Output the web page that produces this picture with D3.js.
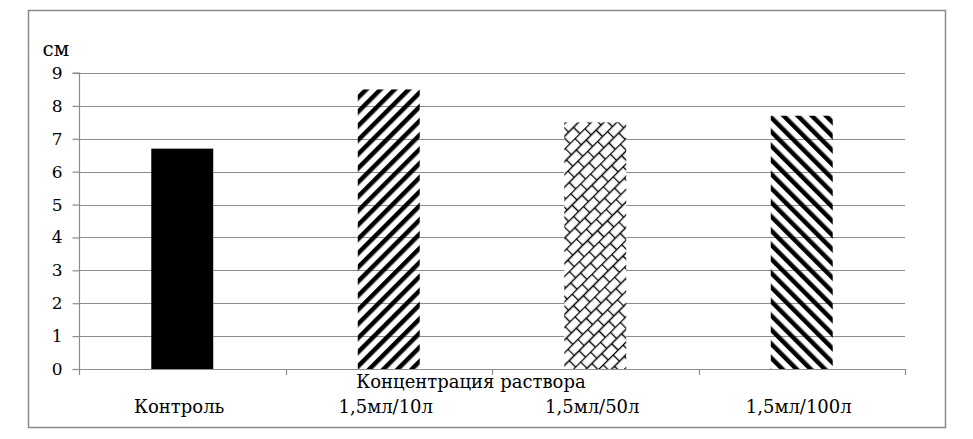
<!DOCTYPE html>
<html>
<head>
<meta charset="utf-8">
<script src="https://cdn.jsdelivr.net/npm/d3@7"></script>
<style>
  body { margin: 0; background: #fff; }
</style>
</head>
<body>
<svg id="chart"></svg>
<script>
// data
var categories = ["Контроль", "1,5мл/10л", "1,5мл/50л", "1,5мл/100л"];
var values = [6.7, 8.5, 7.5, 7.7];
var fills = ["solid", "fwd", "brick", "back"];
var yTicks = [0, 1, 2, 3, 4, 5, 6, 7, 8, 9];

var W = 973, H = 439;
var margin = { top: 73, right: 68, bottom: 70, left: 79 };
var FONT = "'DejaVu Serif', 'Liberation Serif', serif";

var svg = d3.select("#chart").attr("width", W).attr("height", H)
  .style("font-family", FONT);

// outer frame
svg.append("rect")
  .attr("x", 28.5).attr("y", 10.5)
  .attr("width", 917).attr("height", 417)
  .attr("fill", "#fff").attr("stroke", "#8a8a8a").attr("stroke-width", 1.5);

var defs = svg.append("defs");

// forward diagonal stripes "/"
var p1 = defs.append("pattern").attr("id", "fwd")
  .attr("patternUnits", "userSpaceOnUse")
  .attr("width", 10).attr("height", 10)
  .attr("patternTransform", "rotate(45)");
p1.append("rect").attr("x", 0).attr("y", 0).attr("width", 4.5).attr("height", 10).attr("fill", "#000");

// backward diagonal stripes "\"
var p2 = defs.append("pattern").attr("id", "back")
  .attr("patternUnits", "userSpaceOnUse")
  .attr("width", 10).attr("height", 10)
  .attr("patternTransform", "rotate(-45)");
p2.append("rect").attr("x", 0).attr("y", 0).attr("width", 4.5).attr("height", 10).attr("fill", "#000");

// diagonal brick
var p3 = defs.append("pattern").attr("id", "brick")
  .attr("patternUnits", "userSpaceOnUse")
  .attr("width", 14).attr("height", 18)
  .attr("patternTransform", "rotate(-45)");
p3.append("rect").attr("width", 14).attr("height", 18).attr("fill", "#fff");
p3.append("path")
  .attr("d", "M0,0.5H14M0,9.5H14M0.5,0.5V9.5M7.5,9.5V18")
  .attr("stroke", "#000").attr("stroke-width", 1.4).attr("fill", "none");

var x = d3.scaleBand()
  .domain(categories)
  .range([margin.left, W - margin.right]);

var y = d3.scaleLinear()
  .domain([0, 9])
  .range([369, margin.top]);

// gridlines
svg.append("g")
  .selectAll("line")
  .data(yTicks.slice(1))
  .join("line")
  .attr("x1", margin.left).attr("x2", W - margin.right)
  .attr("y1", function (d) { return Math.round(y(d)) + 0.5; })
  .attr("y2", function (d) { return Math.round(y(d)) + 0.5; })
  .attr("stroke", "#8c8c8c").attr("stroke-width", 1.2);

// bars
var bw = x.bandwidth() * 0.3;
svg.append("g")
  .selectAll("rect")
  .data(values)
  .join("rect")
  .attr("x", function (d, i) { return x(categories[i]) + x.bandwidth() / 2 - bw / 2; })
  .attr("y", function (d) { return y(d); })
  .attr("width", bw)
  .attr("height", function (d) { return y(0) - y(d); })
  .attr("fill", function (d, i) { return fills[i] === "solid" ? "#000" : "url(#" + fills[i] + ")"; });

// y axis
var yAxis = d3.axisLeft(y).tickValues(yTicks).tickSize(7).tickPadding(10);
var gy = svg.append("g").attr("transform", "translate(" + (margin.left + 0.5) + ",0)").call(yAxis)
  .attr("font-family", FONT).attr("font-size", 17);
gy.select(".domain").attr("stroke", "#8c8c8c").attr("stroke-width", 1.2).attr("d", "M-7," + y(9) + "H0V" + y(0));
gy.selectAll(".tick line").attr("stroke", "#8c8c8c").attr("stroke-width", 1.2);
gy.selectAll(".tick text").attr("fill", "#000");

// x axis: ticks at category boundaries
var bounds = categories.map(function (c) { return x(c); }).concat([W - margin.right]);
svg.append("line")
  .attr("x1", margin.left).attr("x2", W - margin.right)
  .attr("y1", y(0) + 0.5).attr("y2", y(0) + 0.5)
  .attr("stroke", "#8c8c8c").attr("stroke-width", 1.2);
svg.append("g").selectAll("line")
  .data(bounds)
  .join("line")
  .attr("x1", function (d) { return Math.round(d) + 0.5; })
  .attr("x2", function (d) { return Math.round(d) + 0.5; })
  .attr("y1", y(0)).attr("y2", y(0) + 6)
  .attr("stroke", "#8c8c8c").attr("stroke-width", 1.2);

// category labels
svg.append("g").selectAll("text")
  .data(categories)
  .join("text")
  .attr("x", function (d) { return x(d) + x.bandwidth() / 2 - 3; })
  .attr("y", 413)
  .attr("text-anchor", "middle")
  .attr("font-size", 18)
  .text(function (d) { return d; });

// axis titles
svg.append("text")
  .attr("x", 471).attr("y", 388)
  .attr("text-anchor", "middle")
  .attr("font-size", 18)
  .text("Концентрация раствора");

svg.append("text")
  .attr("x", 56).attr("y", 56)
  .attr("text-anchor", "middle")
  .attr("font-size", 20)
  .text("см");
</script>
</body>
</html>
